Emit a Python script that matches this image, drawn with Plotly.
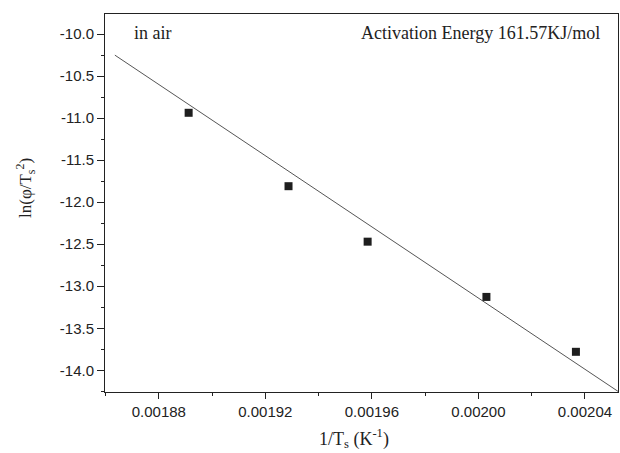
import numpy as np
import plotly.graph_objects as go

# data
inv_T = [0.0018912, 0.0019287, 0.0019584, 0.0020030, 0.0020366]
ln_phi = [-10.937, -11.81, -12.47, -13.127, -13.78]
# fitted line (as drawn): y = fit_a + fit_b * x
fit_a = 29.199
fit_b = -21170.0
fit_x = [0.0018635, 0.0020524]

x_ticks = [0.00188, 0.00192, 0.00196, 0.00200, 0.00204]
x_ticktext = ["0.00188", "0.00192", "0.00196", "0.00200", "0.00204"]
y_ticks = [-10.0, -10.5, -11.0, -11.5, -12.0, -12.5, -13.0, -13.5, -14.0]
y_ticktext = ["-10.0", "-10.5", "-11.0", "-11.5", "-12.0", "-12.5", "-13.0", "-13.5", "-14.0"]

fx = np.array(fit_x)
fy = fit_a + fit_b * fx

fig = go.Figure()
fig.add_trace(go.Scatter(x=fx, y=fy, mode="lines",
                         line=dict(color="#555555", width=1), showlegend=False))
fig.add_trace(go.Scatter(x=inv_T, y=ln_phi, mode="markers",
                         marker=dict(symbol="square", size=8, color="#1e1e1e"),
                         showlegend=False))

tickfont = dict(family="Liberation Sans, Arial, sans-serif", size=15, color="#222222")
serif = "Liberation Serif, Times New Roman, serif"

fig.update_layout(
    width=620, height=453,
    margin=dict(l=105, r=2, t=14, b=61),
    paper_bgcolor="white", plot_bgcolor="white",
    xaxis=dict(range=[0.0018598, 0.0020524], tickvals=x_ticks, ticktext=x_ticktext,
               ticks="outside", ticklen=6, tickwidth=1, tickcolor="#222",
               minor=dict(dtick=0.00002, tick0=0.00186, ticks="outside", ticklen=3, tickcolor="#222"),
               showline=True, linecolor="#222", linewidth=1, mirror=True,
               showgrid=False, zeroline=False, tickfont=tickfont),
    yaxis=dict(range=[-14.258, -9.762], tickvals=y_ticks, ticktext=y_ticktext,
               ticks="outside", ticklen=7, tickwidth=1, tickcolor="#222",
               minor=dict(dtick=0.25, tick0=-10.25, ticks="outside", ticklen=3, tickcolor="#222"),
               showline=True, linecolor="#222", linewidth=1, mirror=True,
               showgrid=False, zeroline=False, tickfont=tickfont),
    annotations=[
        dict(text="in air", xref="paper", yref="paper", x=0.052, y=0.95,
             xanchor="left", yanchor="middle", showarrow=False,
             font=dict(family=serif, size=18, color="#222")),
        dict(text="Activation Energy 161.57KJ/mol", xref="paper", yref="paper", x=0.968, y=0.95,
             xanchor="right", yanchor="middle", showarrow=False,
             font=dict(family=serif, size=18, color="#222")),
        dict(text="1/T<sub>s</sub> (K<sup>-1</sup>)", xref="paper", yref="paper",
             x=(354 - 105) / 513, y=-(438 - 392) / 378,
             xanchor="center", yanchor="middle", showarrow=False,
             font=dict(family=serif, size=18, color="#222")),
        dict(text="ln(φ/T<sub>s</sub><sup>2</sup>)", xref="paper", yref="paper",
             x=(25 - 105) / 513, y=(392 - 188) / 378, textangle=-90,
             xanchor="center", yanchor="middle", showarrow=False,
             font=dict(family=serif, size=17, color="#222")),
    ],
)

fig.write_html("out.html")
